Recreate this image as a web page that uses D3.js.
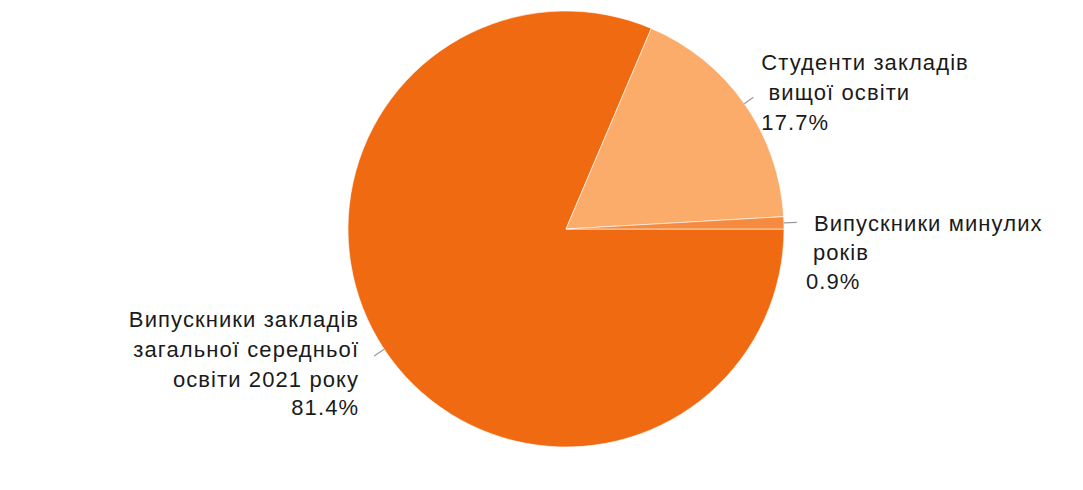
<!DOCTYPE html>
<html><head><meta charset="utf-8">
<script src="https://cdn.jsdelivr.net/npm/d3@7"></script>
<style>html,body{margin:0;padding:0;background:#fff;}svg{display:block;}</style>
</head><body>
<svg id="c" width="1083" height="490"></svg>
<script>
const categories = ["Випускники закладів загальної середньої освіти 2021 року", "Студенти закладів вищої освіти", "Випускники минулих років"];
const values = [81.4, 17.7, 0.9];
const colors = ["#F06A12", "#FBAC6B", "#F58B3F"];
const labelLines = [
  ["Випускники закладів", "загальної середньої", "освіти 2021 року", "81.4%"],
  ["Студенти закладів", " вищої освіти", "17.7%"],
  ["Випускники минулих", "років", "0.9%"]
];

const svg = d3.select("#c");
const cx = 566, cy = 229, r = 218;
const g = svg.append("g").attr("transform", `translate(${cx},${cy})`);

const pie = d3.pie().sort(null).value(d => d).startAngle(Math.PI/2).endAngle(Math.PI/2 + 2*Math.PI);
const arcs = pie(values);
const arc = d3.arc().innerRadius(0).outerRadius(r);

g.selectAll("path.slice").data(arcs).enter().append("path")
  .attr("d", arc)
  .attr("fill", (d,i) => colors[i])
  .attr("stroke", "#fff").attr("stroke-width", 0.6);

// leader lines
const mid = d => (d.startAngle + d.endAngle)/2;
const pt = (a, rad) => [rad*Math.sin(a), -rad*Math.cos(a)];
const lead = [12, 11, 13];
arcs.forEach((d,i) => {
  const a = mid(d);
  const p0 = pt(a, r), p1 = pt(a, r + lead[i]);
  g.append("line").attr("x1", p0[0]).attr("y1", p0[1]).attr("x2", p1[0]).attr("y2", p1[1])
    .attr("stroke", "#9a9a9a").attr("stroke-width", 1.2);
});

// labels: anchor relative to leader end
const labelCfg = [
  {anchor: "end", dx: -15, dy: -29, lh: 30, lineDx: [0, 0, 0, 0], lineDy: [0, 0, 0, -2]},
  {anchor: "start", dx: 8, dy: -27, lh: 30, lineDx: [0, 0, 0], lineDy: [0, 0, 0]},
  {anchor: "start", dx: 17, dy: 9, lh: 29, lineDx: [0, -1, -8], lineDy: [0, 0, 0]}
];
arcs.forEach((d,i) => {
  const a = mid(d);
  const p1 = pt(a, r + lead[i]);
  const c = labelCfg[i];
  const t = g.append("text")
    .attr("x", p1[0] + c.dx).attr("y", p1[1] + c.dy)
    .attr("text-anchor", c.anchor)
    .attr("font-family", "'Liberation Sans', Arial, sans-serif")
    .attr("font-size", 22).attr("letter-spacing", 1.1).attr("fill", "#1a1a1a")
    .attr("xml:space", "preserve").style("white-space", "pre");
  labelLines[i].forEach((s, j) => {
    t.append("tspan").attr("x", p1[0] + c.dx + c.lineDx[j]).attr("y", p1[1] + c.dy + j*c.lh + c.lineDy[j]).text(s);
  });
});
</script>
</body></html>
